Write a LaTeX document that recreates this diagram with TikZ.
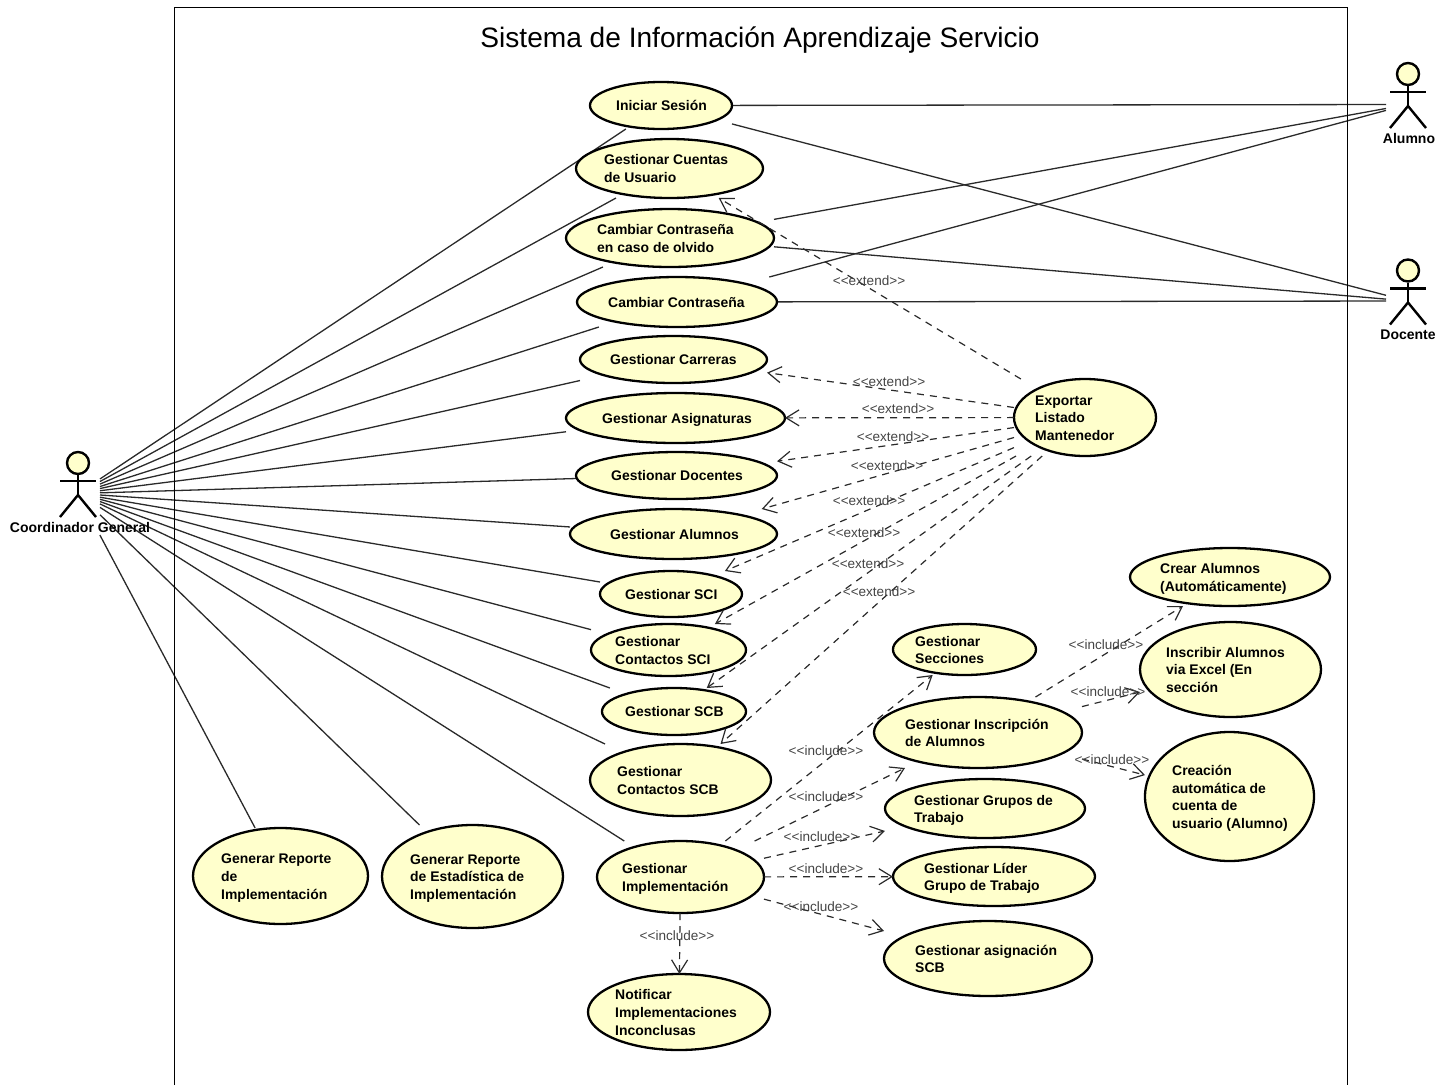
\documentclass[tikz,border=0pt]{standalone}
\usepackage{fontspec}
\setmainfont{Liberation Sans}
\usetikzlibrary{shapes.geometric,arrows.meta}
\pgfdeclarelayer{edges}
\pgfsetlayers{edges,main}
\definecolor{ucfill}{HTML}{FFFFCC}
\definecolor{edgegray}{HTML}{2A2A2A}
\definecolor{stereogray}{HTML}{444444}
\newcommand{\stereo}[1]{<{}<#1>{}>}
\tikzset{
    usecase/.style={ellipse, draw=black, line width=2.3pt, fill=ucfill, inner sep=0pt},
    ucbox/.style={rectangle, inner sep=0pt, outer sep=0pt},
    uctext/.style={anchor=west, align=left, inner sep=0pt, yshift=-1.8pt, font=\bfseries\fontsize{13.95}{17.7}\selectfont},
    actorbox/.style={rectangle, inner sep=0pt, outer sep=0pt, minimum width=44pt, minimum height=83pt},
    actorline/.style={draw=black, line width=2.4pt},
    actorname/.style={inner sep=0pt, font=\bfseries\fontsize{14}{17}\selectfont},
    assoc/.style={draw=edgegray, line width=1.3pt},
    dep/.style={draw=edgegray, line width=1.2pt, dash pattern=on 7pt off 6pt, -{Straight Barb[length=13pt,width=16pt]}},
    stereolabel/.style={inner sep=0pt, text=stereogray, font=\fontsize{13.55}{17}\selectfont},
}
\begin{document}
\begin{tikzpicture}[x=1pt, y=-1pt]
    \useasboundingbox (0,0) rectangle (1449,1085);
    \draw[line width=1pt] (174,1085) -- (174,7.5) -- (1347,7.5) -- (1347,1085);
    \node[inner sep=0pt, font=\fontsize{28.1}{34}\selectfont] (title) at (760,40) {Sistema de Información Aprendizaje Servicio};
    % casos de uso
    \foreach \n/\x/\y/\w/\h/\tx/\t in {
        iniciar/661/105.5/142/47/616/{Iniciar Sesión},
        cuentas/669.5/168.5/187/59/604/{Gestionar Cuentas\\de Usuario},
        olvido/670/238/208/58/597/{Cambiar Contraseña\\en caso de olvido},
        cambiar/677/302/200/50/608/{Cambiar Contraseña},
        carreras/673.5/359.5/187/47/610/{Gestionar Carreras},
        asignaturas/675.5/418/219/50/602/{Gestionar Asignaturas},
        docentes/676.5/475.5/201/47/611/{Gestionar Docentes},
        alumnos/673.5/534/207/50/610/{Gestionar Alumnos},
        sci/671/594/142/46/625/{Gestionar SCI},
        contsci/668.5/650/155/52/615/{Gestionar\\Contactos SCI},
        scb/674/711.5/144/47/625/{Gestionar SCB},
        contscb/680.5/780/181/72/617/{Gestionar\\Contactos SCB},
        implementacion/680.5/877/167/72/622/{Gestionar\\Implementación},
        notificar/679/1012/182/76/615/{Notificar\\Implementaciones\\Inconclusas},
        reporte/280.5/876/175/96/221/{Generar Reporte\\de\\Implementación},
        estadistica/472.5/876.5/181/103/410/{Generar Reporte\\de Estadística de\\Implementación},
        exportar/1085/417.5/142/77/1035/{Exportar\\Listado\\Mantenedor},
        secciones/964.5/649.5/143/51/915/{Gestionar\\Secciones},
        inscripcion/978/732.5/208/71/905/{Gestionar Inscripción\\de Alumnos},
        grupos/985/808.5/200/59/914/{Gestionar Grupos de\\Trabajo},
        lider/994/876.5/202/59/924/{Gestionar Líder\\Grupo de Trabajo},
        asignacion/988/958.5/208/75/915/{Gestionar asignación\\SCB},
        crear/1230/577/200/58/1160/{Crear Alumnos\\(Automáticamente)},
        inscribir/1230.5/669.5/181/95/1166/{Inscribir Alumnos\\via Excel (En\\sección},
        creacion/1229.5/796.5/169/129/1172/{Creación\\automática de\\cuenta de\\usuario (Alumno)}%
    } {
        \node[usecase, minimum width=\w pt, minimum height=\h pt] (\n-e) at (\x,\y) {};
        \node[ucbox, minimum width=\w pt, minimum height=\h pt] (\n) at (\x,\y) {};
        \node[uctext] (\n-t) at (\tx,\y) {\strut\t\strut};
    }
    % actores
    \foreach \n/\x/\y/\t in {cg/78/493.5/Coordinador General, alumno/1408/104.5/Alumno, docente/1408/301/Docente} {
        \node[actorbox] (\n) at (\x,\y) {};
        \node[actorline, circle, fill=ucfill, minimum size=22pt, inner sep=0pt] (\n-head) at (\x,\y-30.5) {};
        \coordinate (\n-neck) at (\x,\y-19.5);
        \coordinate (\n-hip) at (\x,\y+1.5);
        \coordinate (\n-la) at (\x-18,\y-12.5);
        \coordinate (\n-ra) at (\x+18,\y-12.5);
        \coordinate (\n-ll) at (\x-18,\y+23.5);
        \coordinate (\n-rl) at (\x+18,\y+23.5);
        \draw[actorline] (\n-head) -- (\n-hip);
        \draw[actorline] (\n-la) -- (\n-ra);
        \draw[actorline] (\n-ll) -- (\n-hip) -- (\n-rl);
    }
    \node[actorname] (cg-name) at (80,527) {Coordinador General};
    \node[actorname] (alumno-name) at (1409,138) {Alumno};
    \node[actorname] (docente-name) at (1408,335) {Docente};
    \begin{pgfonlayer}{edges}
        \foreach \t in {iniciar,cuentas,olvido,cambiar,carreras,asignaturas,docentes,alumnos,sci,contsci,scb,contscb,implementacion,reporte,estadistica}
            \draw[assoc] (cg) -- (\t);
        \foreach \t in {iniciar,olvido,cambiar} {
            \draw[assoc] (alumno) -- (\t);
            \draw[assoc] (docente) -- (\t);
        }
    \end{pgfonlayer}
    % extend
    \foreach \t/\lx/\ly in {cuentas/869/281, carreras/889/382, asignaturas/898/409, docentes/893/437, alumnos/887/466, sci/869/501, contsci/864/533, scb/868/564, contscb/879/592} {
        \draw[dep] (exportar) -- (\t);
        \node[stereolabel] (\t-ext) at (\lx,\ly) {\stereo{extend}};
    }
    % include
    \foreach \t/\lx/\ly in {secciones/826/751, inscripcion/826/797, grupos/821/837, lider/826/869, asignacion/821/907, notificar/677/936} {
        \draw[dep] (implementacion) -- (\t);
        \node[stereolabel] (\t-inc) at (\lx,\ly) {\stereo{include}};
    }
    \foreach \t/\lx/\ly in {crear/1106/645, inscribir/1108/692, creacion/1112/760} {
        \draw[dep] (inscripcion) -- (\t);
        \node[stereolabel] (\t-inc) at (\lx,\ly) {\stereo{include}};
    }
\end{tikzpicture}
\end{document}
